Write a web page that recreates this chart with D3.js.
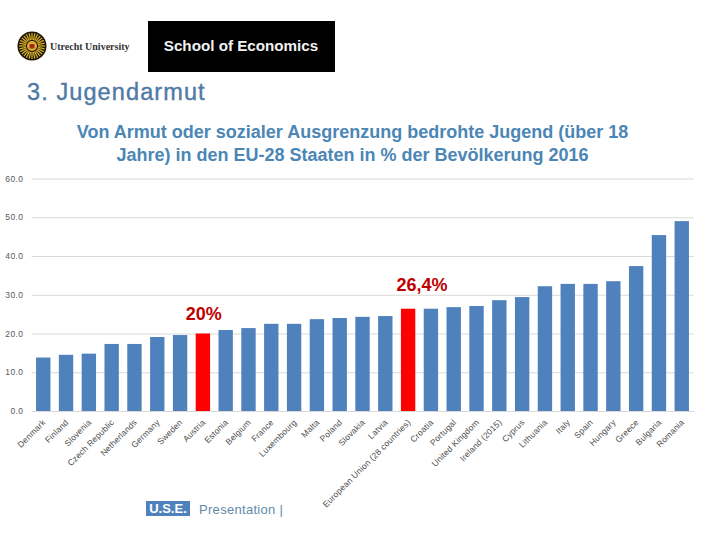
<!DOCTYPE html>
<html><head><meta charset="utf-8">
<script src="https://cdn.jsdelivr.net/npm/d3@7"></script>
<style>html,body{margin:0;background:#fff}svg{display:block}</style></head>
<body><svg id="c" width="720" height="540"></svg>
<script>
const categories=["Denmark","Finland","Slovenia","Czech Republic","Netherlands","Germany","Sweden","Austria","Estonia","Belgium","France","Luxembourg","Malta","Poland","Slovakia","Latvia","European Union (28 countries)","Croatia","Portugal","United Kingdom","Ireland (2015)","Cyprus","Lithuania","Italy","Spain","Hungary","Greece","Bulgaria","Romania"];
const values=[13.8,14.5,14.8,17.3,17.3,19.1,19.6,20.0,20.9,21.4,22.5,22.5,23.7,24.0,24.3,24.5,26.4,26.4,26.8,27.1,28.6,29.4,32.2,32.8,32.8,33.5,37.4,45.4,49.0];
const highlighted=["Austria","European Union (28 countries)"];
const yTicks=[0,10,20,30,40,50,60];
const titleLines=["Von Armut oder sozialer Ausgrenzung bedrohte Jugend (über 18","Jahre) in den EU-28 Staaten in % der Bevölkerung 2016"];
const annotations=[{cat:"Austria",text:"20%"},{cat:"European Union (28 countries)",text:"26,4%"}];

const svg=d3.select("#c");
const F="Liberation Sans, Arial, sans-serif";
const x=d3.scaleBand().domain(categories).range([31.5,693.5]).paddingInner(0.37).paddingOuter(0.2);
const y=d3.scaleLinear().domain([0,60]).range([411,178.5]);

// logos
const sun=svg.append("g").attr("transform","translate(32,46)");
sun.append("circle").attr("r",14.5).attr("fill","#1c1608");
sun.selectAll("line").data(d3.range(28)).join("line")
  .attr("x1",d=>6*Math.cos(d/28*2*Math.PI)).attr("y1",d=>6*Math.sin(d/28*2*Math.PI))
  .attr("x2",d=>13*Math.cos(d/28*2*Math.PI)).attr("y2",d=>13*Math.sin(d/28*2*Math.PI))
  .attr("stroke","#d4ac2a").attr("stroke-width",1.3);
sun.append("circle").attr("r",5).attr("fill","#e0b030");
sun.append("rect").attr("x",-2.5).attr("y",-2).attr("width",5).attr("height",4.5).attr("fill","#a52a1a");
svg.append("text").attr("x",50).attr("y",50).attr("font-family","Liberation Serif, serif").attr("font-weight",700).attr("font-size",10).attr("fill","#333").text("Utrecht University");
svg.append("rect").attr("x",148).attr("y",21).attr("width",187).attr("height",51).attr("fill","#000");
svg.append("text").attr("x",241).attr("y",51).attr("text-anchor","middle").attr("font-family",F).attr("font-weight",700).attr("font-size",15.2).attr("fill","#f2f2f2").text("School of Economics");

svg.append("text").attr("x",27).attr("y",100).attr("font-family",F).attr("font-size",23.5).attr("letter-spacing",1.1).attr("fill","#4f7aa6").attr("stroke","#4f7aa6").attr("stroke-width",0.4).text("3. Jugendarmut");

svg.append("g").selectAll("text").data(titleLines).join("text")
  .attr("x",352.5).attr("y",(d,i)=>138+i*23).attr("text-anchor","middle")
  .attr("font-family",F).attr("font-weight",700).attr("font-size",18).attr("fill","#4b86b5").text(d=>d);

// grid and axis
const yAxis=d3.axisLeft(y).tickValues(yTicks).tickSize(-(693.5-31.5)).tickFormat(d3.format(".1f"));
const gy=svg.append("g").attr("transform","translate(31.5,0)").call(yAxis);
gy.select(".domain").remove();
gy.selectAll("line").attr("stroke","#d9d9d9").attr("stroke-width",1);
gy.selectAll("text").attr("x",-8).attr("font-family",F).attr("font-size",8.5).attr("letter-spacing",0.4).attr("fill","#595959");

svg.append("g").selectAll("rect").data(categories).join("rect")
  .attr("x",d=>x(d)).attr("width",x.bandwidth())
  .attr("y",(d,i)=>y(values[i])).attr("height",(d,i)=>y(0)-y(values[i]))
  .attr("fill",d=>highlighted.includes(d)?"#ff0000":"#4f81bd");

const xAxis=d3.axisBottom(x).tickSize(0);
const gx=svg.append("g").attr("transform","translate(0,411)").call(xAxis);
gx.select(".domain").attr("stroke","#d9d9d9");
gx.selectAll("text").attr("font-family",F).attr("font-size",8.5).attr("letter-spacing",0.15).attr("fill","#4d4d4d")
  .attr("text-anchor","end").attr("dy",0).attr("y",0)
  .attr("transform","translate(3,12) rotate(-45)");

svg.append("g").selectAll("text").data(annotations).join("text")
  .attr("x",d=>x(d.cat)+x.bandwidth()/2+(d.text==="20%"?1:14)).attr("y",(d,i)=>[320,291][i]).attr("text-anchor","middle")
  .attr("font-family",F).attr("font-weight",700).attr("font-size",18).attr("fill","#c00000").text(d=>d.text);

svg.append("rect").attr("x",146).attr("y",501).attr("width",44).attr("height",15).attr("fill","#4f81bd");
svg.append("text").attr("x",168).attr("y",513).attr("text-anchor","middle").attr("font-family",F).attr("font-weight",700).attr("font-size",13).attr("fill","#fff").text("U.S.E.");
svg.append("text").attr("x",199).attr("y",514).attr("font-family",F).attr("font-size",13).attr("letter-spacing",0.3).attr("fill","#5f8aa8").text("Presentation |");
</script></body></html>
